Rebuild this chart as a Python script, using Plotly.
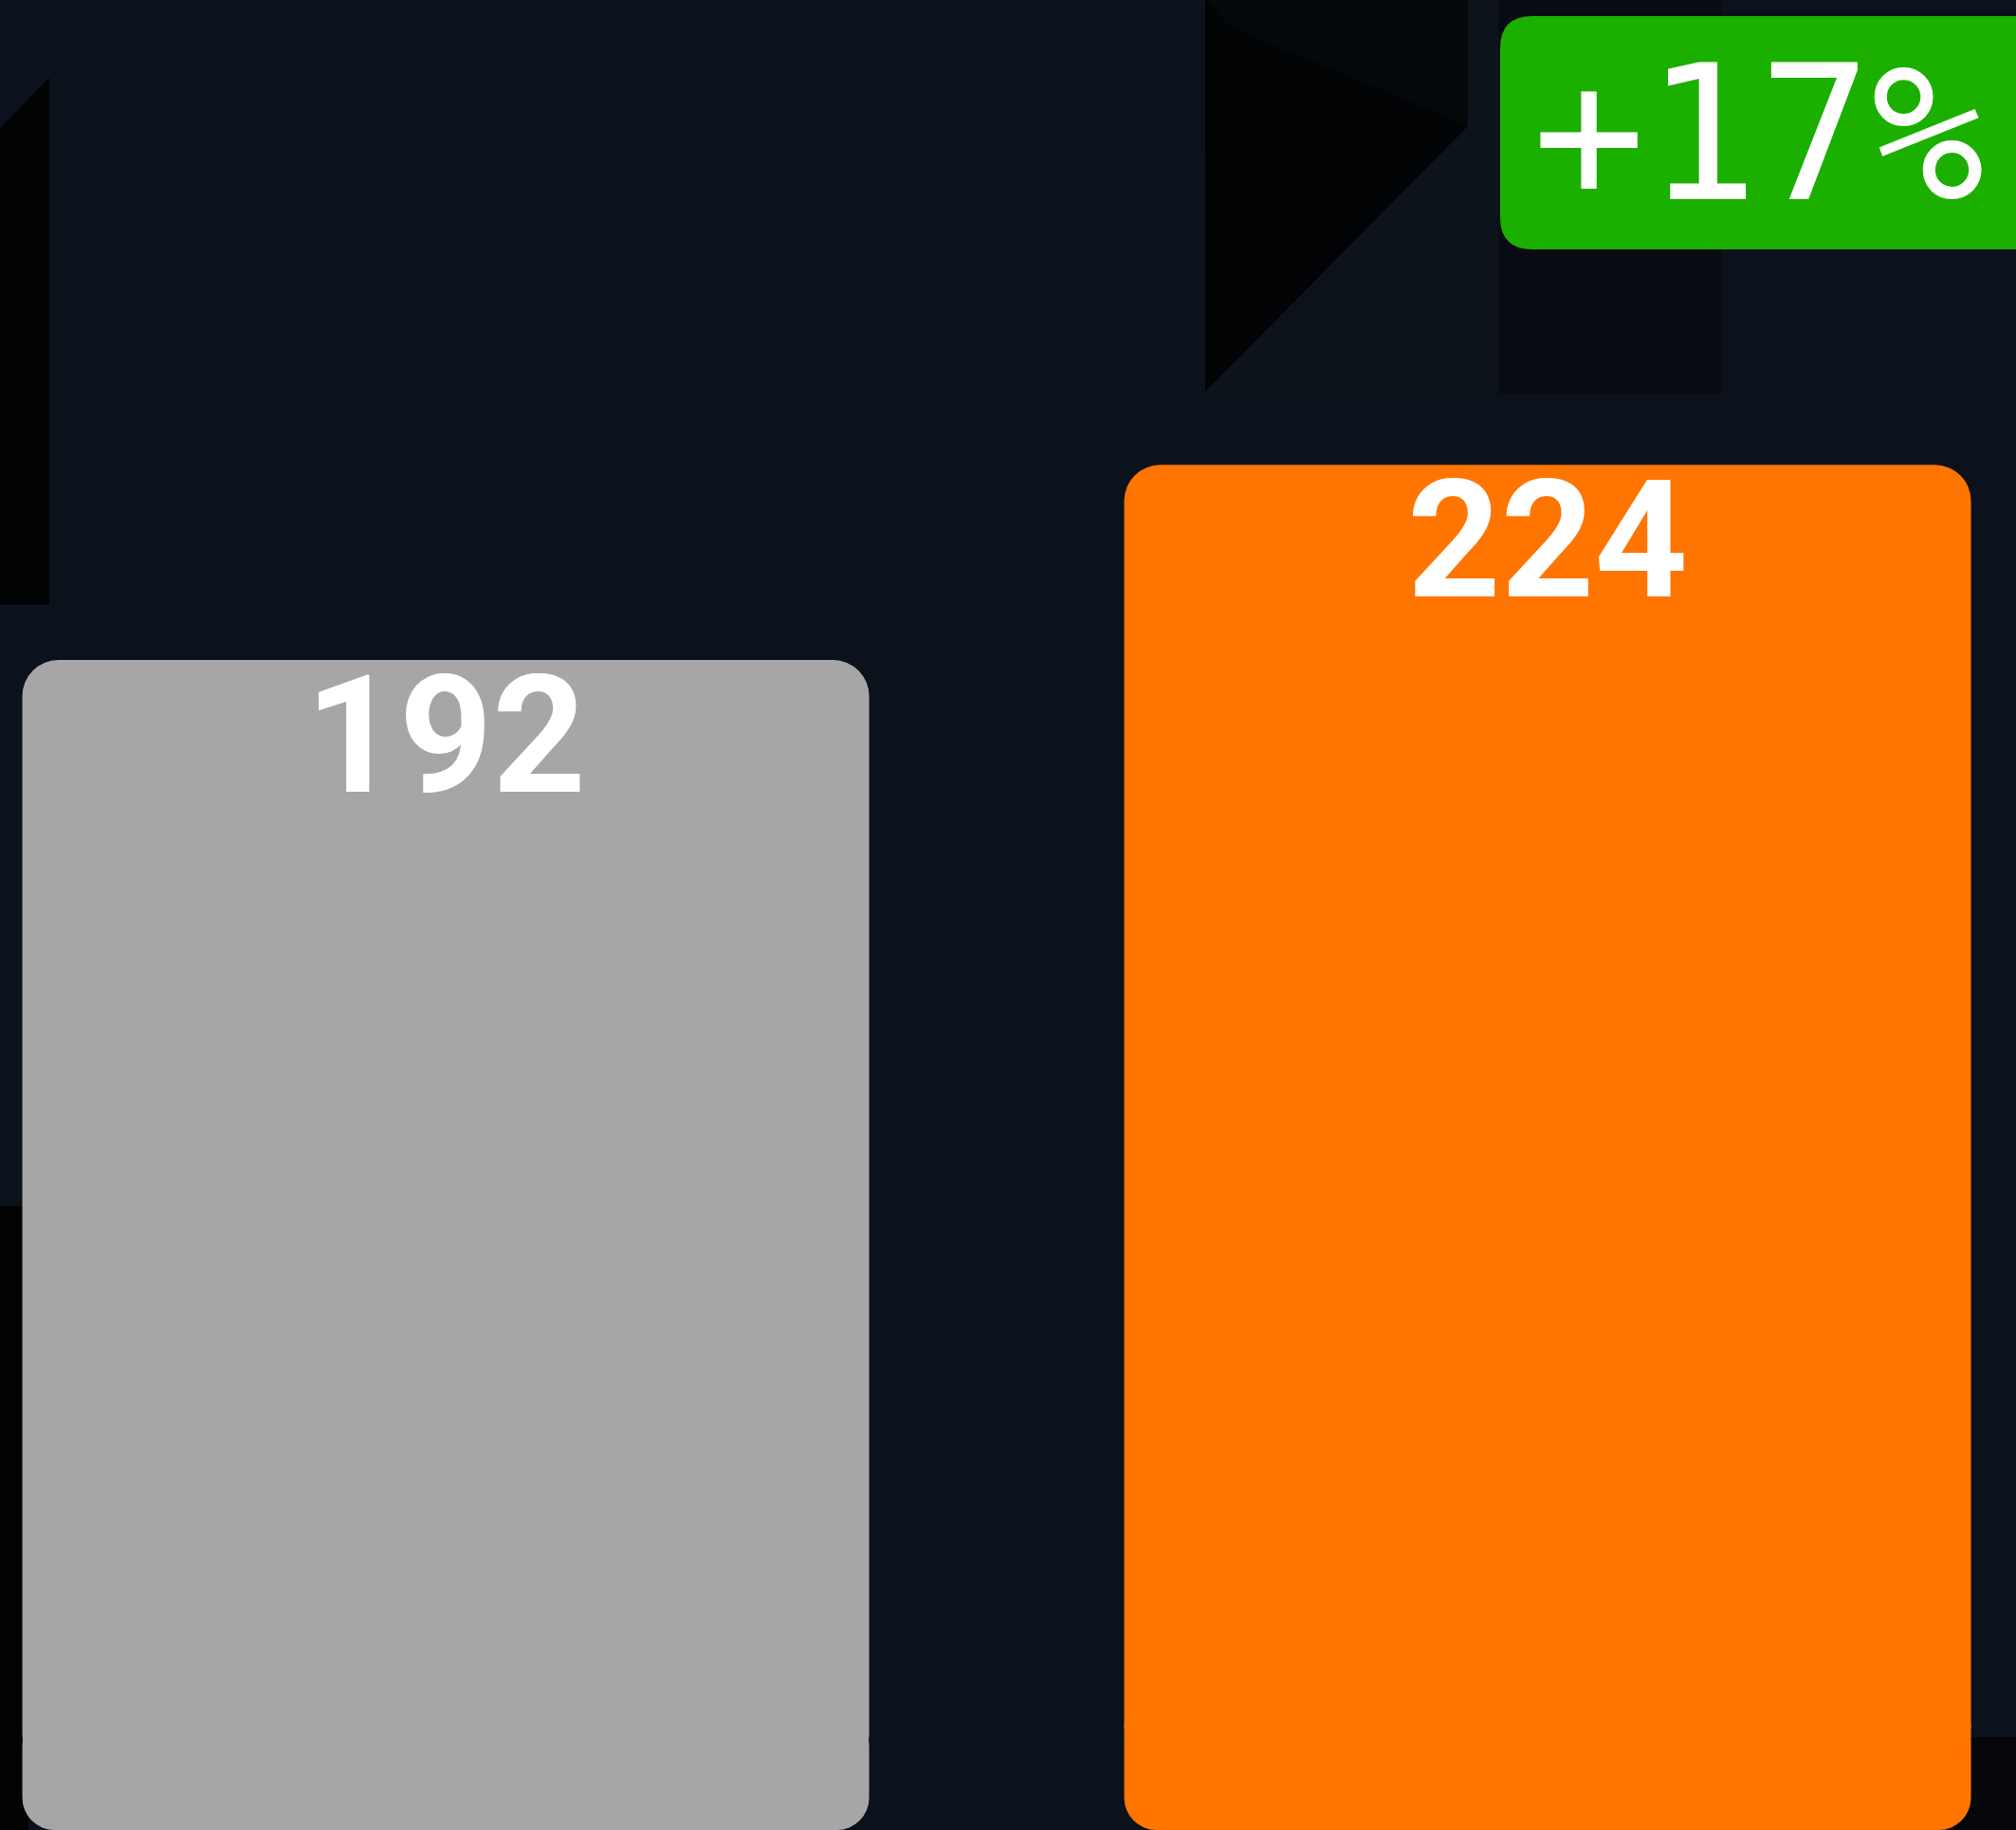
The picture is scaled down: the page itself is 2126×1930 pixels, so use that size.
import plotly.graph_objects as go

# ---- data ----
categories = ["Before", "After"]
values = [192, 224]
bar_colors = ["#a6a6a6", "#ff7500"]

W, H = 2126, 1930
BG = "#0c121b"

change = round((values[1] - values[0]) / values[0] * 100)
badge_text = f"+{change}%"

fig = go.Figure()

bar_w = 0.7685
# rounded bottom caps (short bars drawn downward to 0)
fig.add_trace(go.Bar(
    x=categories, y=[-v * 0.1 for v in values], base=[v * 0.1 for v in values],
    width=[bar_w] * 2, marker=dict(color=bar_colors, cornerradius=34, line=dict(width=0)),
    hoverinfo="skip", showlegend=False,
))
# main bars (start slightly above 0 so the rounded caps show at the bottom)
fig.add_trace(go.Bar(
    x=categories, y=[v * 0.95 for v in values], base=[v * 0.05 for v in values],
    width=[bar_w] * 2, customdata=values, hovertemplate="%{x}: %{customdata}<extra></extra>",
    marker=dict(color=bar_colors, cornerradius=38, line=dict(width=0)),
    showlegend=False,
))


def px(x):
    return x / W


def py(y):
    return 1 - y / H


def poly(points):
    return "M " + " L ".join(f"{px(x):.5f},{py(y):.5f}" for x, y in points) + " Z"


def rrect(x0, y0, x1, y1, r):
    rx, ry = r / W, r / H
    X0, X1 = px(x0), px(x1)
    Y0, Y1 = py(y0), py(y1)  # Y0 top (larger), Y1 bottom
    return (f"M {X0 + rx},{Y0} L {X1 - rx},{Y0} Q {X1},{Y0} {X1},{Y0 - ry} "
            f"L {X1},{Y1 + ry} Q {X1},{Y1} {X1 - rx},{Y1} L {X0 + rx},{Y1} "
            f"Q {X0},{Y1} {X0},{Y1 + ry} L {X0},{Y0 - ry} Q {X0},{Y0} {X0 + rx},{Y0} Z")


def deco(path, color, layer="below"):
    return dict(type="path", path=path, xref="paper", yref="paper",
                fillcolor=color, line=dict(width=0), layer=layer)


shapes = [
    deco(poly([(1271, 0), (1816, 0), (1816, 415), (1271, 415)]), "#0d131b"),
    deco(poly([(1580, 0), (1816, 0), (1816, 415), (1580, 415)]), "#080c12"),
    deco(poly([(1271, 0), (1548, 0), (1548, 133), (1271, 413)]), "#020304"),
    deco(poly([(1271, 0), (1548, 0), (1548, 133), (1300, 30)]), "#05080b"),
    deco(poly([(0, 135), (52, 82), (52, 638), (0, 638)]), "#020304"),
    deco(poly([(0, 1272), (30, 1272), (30, 1930), (0, 1930)]), "#020304"),
    deco(poly([(2060, 1832), (2126, 1832), (2126, 1930), (2060, 1930)]), "#04060a"),
    deco(rrect(1582, 17, 2160, 263, 34), "#1bb000", layer="above"),
]

annotations = [
    dict(text=str(v), x=c, y=v, xref="x", yref="y", xanchor="center", yanchor="middle",
         yshift=-80, showarrow=False,
         font=dict(family="Roboto, Lato, sans-serif", size=172, color="white", weight="bold"))
    for c, v in zip(categories, values)
]
annotations.append(dict(
    text=badge_text, xref="paper", yref="paper", x=px(1854), y=py(142),
    xanchor="center", yanchor="middle", showarrow=False,
    font=dict(family="DejaVu Sans Mono, Liberation Mono, monospace", size=198,
              color="white", weight="normal"),
))

fig.update_layout(
    width=W, height=H,
    margin=dict(l=0, r=0, t=0, b=0),
    paper_bgcolor=BG, plot_bgcolor=BG,
    barmode="overlay",
    xaxis=dict(type="category", range=[-0.4045, 1.4251], visible=False, fixedrange=True),
    yaxis=dict(range=[0, 300.3], visible=False, fixedrange=True),
    shapes=shapes,
    annotations=annotations,
    showlegend=False,
)

fig.write_html("out.html", config={"displayModeBar": False},
               post_script="document.body.style.margin='0';document.body.style.background='" + BG + "';")
